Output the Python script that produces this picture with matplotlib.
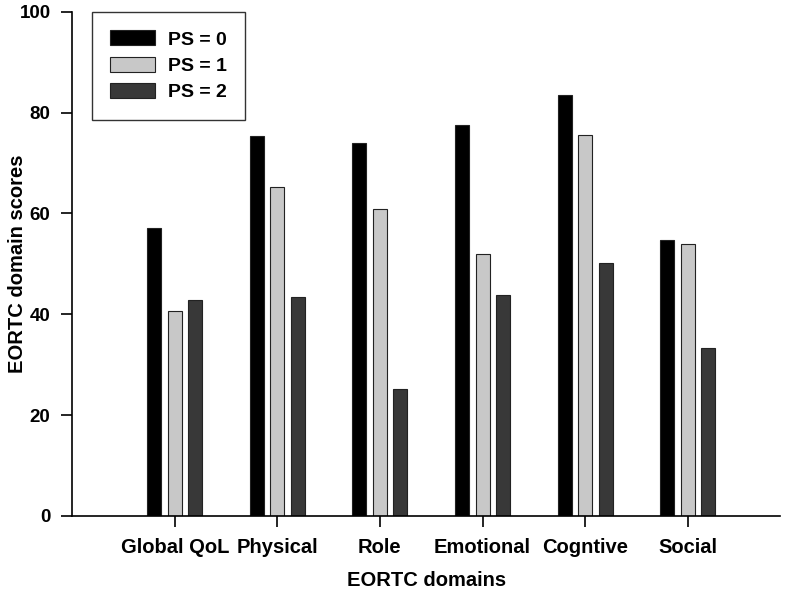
import matplotlib
matplotlib.use("Agg")
import matplotlib.pyplot as plt
import numpy as np

domains = ["Global QoL", "Physical", "Role", "Emotional", "Cogntive", "Social"]
ps0 = [57.2, 75.4, 73.9, 77.5, 83.5, 54.8]
ps1 = [40.7, 65.2, 60.9, 52.0, 75.5, 54.0]
ps2 = [42.8, 43.4, 25.1, 43.8, 50.1, 33.3]
series_labels = ["PS = 0", "PS = 1", "PS = 2"]

plt.rcParams['font.family'] = ['Liberation Sans', 'DejaVu Sans']
plt.rcParams['font.weight'] = 'bold'

fig = plt.figure(figsize=(7.92, 5.93), dpi=100)
ax = fig.add_axes([0.091, 0.13, 0.894, 0.85])

x = np.arange(len(domains))
w = 0.136
off = 0.2
colors = ['#000000', '#c8c8c8', '#383838']
for i, (vals, lab) in enumerate(zip([ps0, ps1, ps2], series_labels)):
    ax.bar(x + (i - 1) * off, vals, w, color=colors[i], edgecolor='#222222',
           linewidth=0.8, label=lab)

fs = 14.5
ax.set_xlim(-1.0, 5.9)
ax.set_ylim(0, 100)
ax.set_xticks(x)
ax.set_xticklabels(domains, fontsize=fs, fontweight='bold')
ax.set_yticks(np.arange(0, 101, 20))
ax.tick_params(axis='y', labelsize=13.5, length=8, width=1.2, direction='out', pad=7.5)
ax.tick_params(axis='x', length=8, width=1.2, direction='out', pad=8)
for t in ax.get_yticklabels():
    t.set_fontweight('bold')

ax.spines['top'].set_visible(False)
ax.spines['right'].set_visible(False)
ax.spines['left'].set_linewidth(1.2)
ax.spines['bottom'].set_linewidth(1.2)

ax.set_xlabel("EORTC domains", fontsize=fs, fontweight='bold', labelpad=10)
ax.set_ylabel("EORTC domain scores", fontsize=fs, fontweight='bold')
ax.yaxis.set_label_coords(-0.064, 0.5)

leg = ax.legend(loc='upper left', bbox_to_anchor=(0.028, 1.0), frameon=True,
                fancybox=False, edgecolor='black', fontsize=14,
                handlelength=2.3, handleheight=0.8, borderpad=0.95,
                labelspacing=0.42, handletextpad=0.67, borderaxespad=0)
leg.get_frame().set_linewidth(1.0)

fig.savefig("out.png", dpi=100)
